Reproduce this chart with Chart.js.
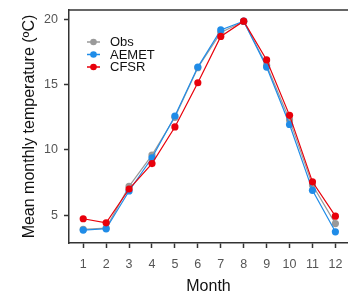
<!DOCTYPE html>
<html>
<head>
<meta charset="utf-8">
<script src="https://cdn.jsdelivr.net/npm/chart.js@4.4.0/dist/chart.umd.min.js"></script>
<style>
  html, body { margin: 0; padding: 0; background: #fff; overflow: hidden; }
  #wrap { width: 352px; height: 296px; }
</style>
</head>
<body>
<div id="wrap"><canvas id="chart" width="352" height="296"></canvas></div>
<script>
// Monthly values
const months = [1, 2, 3, 4, 5, 6, 7, 8, 9, 10, 11, 12];
const obsTemp   = [3.9, 4.0, 7.2, 9.6, 12.5, 16.3, 19.0, 19.85, 16.5, 12.3, 7.3, 4.35];
const aemetTemp = [3.85, 3.95, 6.85, 9.4, 12.6, 16.35, 19.2, 19.87, 16.35, 11.95, 6.9, 3.72];
const cfsrTemp  = [4.72, 4.41, 7.0, 8.95, 11.76, 15.15, 18.7, 19.87, 16.9, 12.65, 7.55, 4.92];
const yTicks = [5, 10, 15, 20];

const seriesNames = ['Obs', 'AEMET', 'CFSR'];
const seriesColors = ['#9a9a9a', '#1f8ce8', '#e8000b'];
const FONT = '"Liberation Sans", Arial, sans-serif';

function toPoints(values) {
    return months.map((m, i) => ({ x: m, y: values[i] }));
}

// Obs drawn first (bottom), CFSR last (top)
const datasets = [obsTemp, aemetTemp, cfsrTemp].map((vals, i) => ({
    label: seriesNames[i],
    data: toPoints(vals),
    borderColor: seriesColors[i],
    backgroundColor: seriesColors[i],
    borderWidth: 1.2,
    pointRadius: 3.6,
    pointBorderWidth: 0,
    tension: 0,
    order: 3 - i
}));

// Frame top line + legend inside the plot
const framePlugin = {
    id: 'frame',
    afterDraw(chart) {
        const { ctx, chartArea } = chart;
        ctx.save();
        ctx.strokeStyle = '#333';
        ctx.lineWidth = 1.5;
        ctx.beginPath();
        ctx.moveTo(chartArea.left, chartArea.top);
        ctx.lineTo(chartArea.right + 5, chartArea.top);
        ctx.stroke();

        // legend
        ctx.font = '13px ' + FONT;
        ctx.textBaseline = 'middle';
        chart.data.datasets.forEach((ds, i) => {
            const y = 42 + i * 12.5;
            ctx.strokeStyle = ds.borderColor;
            ctx.fillStyle = ds.borderColor;
            ctx.lineWidth = 1.5;
            ctx.beginPath();
            ctx.moveTo(87, y);
            ctx.lineTo(100, y);
            ctx.stroke();
            ctx.beginPath();
            ctx.arc(93.5, y, 3.3, 0, Math.PI * 2);
            ctx.fill();
            ctx.fillStyle = '#111';
            ctx.fillText(ds.label, 110, y + 0.5);
        });
        ctx.restore();
    }
};

new Chart(document.getElementById('chart').getContext('2d'), {
    type: 'line',
    data: { datasets: datasets },
    plugins: [framePlugin],
    options: {
        responsive: false,
        animation: false,
        layout: { padding: { top: 10, left: 0, right: 0, bottom: 0 } },
        plugins: {
            legend: { display: false },
            tooltip: { enabled: false }
        },
        scales: {
            x: {
                type: 'linear',
                min: 0.38,
                max: 12.55,
                afterBuildTicks: (scale) => {
                    scale.ticks = months.map(v => ({ value: v }));
                },
                afterFit: (scale) => {
                    scale.height = 53;
                    scale.paddingLeft = 0;
                    scale.paddingRight = 0;
                },
                grid: {
                    drawOnChartArea: false,
                    drawTicks: true,
                    tickLength: 5,
                    tickWidth: 1.5,
                    tickColor: '#333'
                },
                border: { color: '#333', width: 1.5 },
                ticks: {
                    color: '#555',
                    padding: 9,
                    maxRotation: 0,
                    autoSkip: false,
                    font: { family: FONT, size: 12.5 }
                },
                title: {
                    display: true,
                    text: 'Month',
                    color: '#111',
                    padding: { top: 2, bottom: 0 },
                    font: { family: FONT, size: 16 }
                }
            },
            y: {
                min: 2.86,
                max: 20.73,
                afterBuildTicks: (scale) => {
                    scale.ticks = yTicks.map(v => ({ value: v }));
                },
                afterFit: (scale) => {
                    scale.width = 69;
                    scale.paddingTop = 0;
                    scale.paddingBottom = 0;
                },
                grid: {
                    drawOnChartArea: false,
                    drawTicks: true,
                    tickLength: 5,
                    tickWidth: 1.5,
                    tickColor: '#333'
                },
                border: { color: '#333', width: 1.5 },
                ticks: {
                    color: '#555',
                    padding: 6,
                    font: { family: FONT, size: 12.5 }
                },
                title: {
                    display: true,
                    text: 'Mean monthly temperature (ºC)',
                    color: '#111',
                    padding: { top: 20, bottom: 0 },
                    font: { family: FONT, size: 16 }
                }
            }
        }
    }
});
</script>
</body>
</html>
